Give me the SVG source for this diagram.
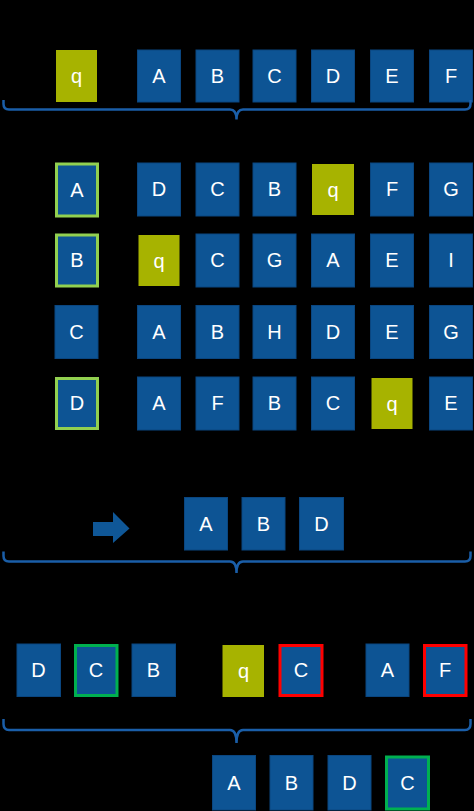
<svg xmlns="http://www.w3.org/2000/svg" width="474" height="811" viewBox="0 0 474 811">
<style>
.b{fill:#0d5494;stroke:#0a4680;stroke-width:1}
.q{fill:#a7b300}
.lg{fill:#0d5494;stroke:#92d050;stroke-width:3}
.g{fill:#0d5494;stroke:#00b050;stroke-width:3}
.r{fill:#0d5494;stroke:#ff0000;stroke-width:3}
.br{fill:none;stroke:#1a5ea8;stroke-width:2.5}
text{font-family:"Liberation Sans",Arial,sans-serif;font-size:20px;fill:#ffffff;text-anchor:middle}
</style>
<rect width="474" height="811" fill="#000000"/>
<g id="row0">
<g id="n0q"><rect class="q" x="56" y="50" width="41" height="52"/><text x="76.5" y="83">q</text></g>
<g id="n0A"><rect class="b" x="137.5" y="50" width="43" height="52"/><text x="159" y="83">A</text></g>
<g id="n0B"><rect class="b" x="196" y="50" width="43" height="52"/><text x="217.5" y="83">B</text></g>
<g id="n0C"><rect class="b" x="253" y="50" width="43" height="52"/><text x="274.5" y="83">C</text></g>
<g id="n0D"><rect class="b" x="311.5" y="50" width="43" height="52"/><text x="333" y="83">D</text></g>
<g id="n0E"><rect class="b" x="370.5" y="50" width="43" height="52"/><text x="392" y="83">E</text></g>
<g id="n0F"><rect class="b" x="429.5" y="50" width="43" height="52"/><text x="451" y="83">F</text></g>
</g>
<g id="grid">
<g id="r1A"><rect class="lg" x="56.5" y="164" width="41" height="52"/><text x="77" y="197">A</text></g>
<g id="r1c1"><rect class="b" x="137.5" y="163" width="43" height="53"/><text x="159" y="196">D</text></g>
<g id="r1c2"><rect class="b" x="196" y="163" width="43" height="53"/><text x="217.5" y="196">C</text></g>
<g id="r1c3"><rect class="b" x="253" y="163" width="43" height="53"/><text x="274.5" y="196">B</text></g>
<g id="r1c4"><rect class="q" x="312" y="164" width="42" height="51"/><text x="333" y="197">q</text></g>
<g id="r1c5"><rect class="b" x="370.5" y="163" width="43" height="53"/><text x="392" y="196">F</text></g>
<g id="r1c6"><rect class="b" x="429.5" y="163" width="43" height="53"/><text x="451" y="196">G</text></g>

<g id="r2B"><rect class="lg" x="56.5" y="235" width="41" height="51"/><text x="77" y="267">B</text></g>
<g id="r2c1"><rect class="q" x="138.5" y="235" width="41" height="51"/><text x="159" y="268">q</text></g>
<g id="r2c2"><rect class="b" x="196" y="234" width="43" height="53"/><text x="217.5" y="267">C</text></g>
<g id="r2c3"><rect class="b" x="253" y="234" width="43" height="53"/><text x="274.5" y="267">G</text></g>
<g id="r2c4"><rect class="b" x="311.5" y="234" width="43" height="53"/><text x="333" y="267">A</text></g>
<g id="r2c5"><rect class="b" x="370.5" y="234" width="43" height="53"/><text x="392" y="267">E</text></g>
<g id="r2c6"><rect class="b" x="429.5" y="234" width="43" height="53"/><text x="451" y="267">I</text></g>

<g id="r3C"><rect class="b" x="55" y="305.5" width="43" height="53"/><text x="76.5" y="338.5">C</text></g>
<g id="r3c1"><rect class="b" x="137.5" y="305.5" width="43" height="53"/><text x="159" y="338.5">A</text></g>
<g id="r3c2"><rect class="b" x="196" y="305.5" width="43" height="53"/><text x="217.5" y="338.5">B</text></g>
<g id="r3c3"><rect class="b" x="253" y="305.5" width="43" height="53"/><text x="274.5" y="338.5">H</text></g>
<g id="r3c4"><rect class="b" x="311.5" y="305.5" width="43" height="53"/><text x="333" y="338.5">D</text></g>
<g id="r3c5"><rect class="b" x="370.5" y="305.5" width="43" height="53"/><text x="392" y="338.5">E</text></g>
<g id="r3c6"><rect class="b" x="429.5" y="305.5" width="43" height="53"/><text x="451" y="338.5">G</text></g>

<g id="r4D"><rect class="lg" x="56.5" y="378.5" width="41" height="50"/><text x="77" y="410">D</text></g>
<g id="r4c1"><rect class="b" x="137.5" y="377" width="43" height="53"/><text x="159" y="410">A</text></g>
<g id="r4c2"><rect class="b" x="196" y="377" width="43" height="53"/><text x="217.5" y="410">F</text></g>
<g id="r4c3"><rect class="b" x="253" y="377" width="43" height="53"/><text x="274.5" y="410">B</text></g>
<g id="r4c4"><rect class="b" x="311.5" y="377" width="43" height="53"/><text x="333" y="410">C</text></g>
<g id="r4c5"><rect class="q" x="371.5" y="378" width="41" height="51"/><text x="392" y="411">q</text></g>
<g id="r4c6"><rect class="b" x="429.5" y="377" width="43" height="53"/><text x="451" y="410">E</text></g>
</g>
<g id="result1">
<g id="s1A"><rect class="b" x="184.5" y="497.5" width="43" height="52.5"/><text x="206" y="530.5">A</text></g>
<g id="s1B"><rect class="b" x="242" y="497.5" width="43" height="52.5"/><text x="263.5" y="530.5">B</text></g>
<g id="s1D"><rect class="b" x="299.5" y="497.5" width="44" height="52.5"/><text x="321.5" y="530.5">D</text></g>
</g>
<g id="section3">
<g id="t1"><rect class="b" x="17" y="644" width="43.5" height="52.5"/><text x="38.5" y="677">D</text></g>
<g id="t2"><rect class="g" x="75.5" y="645.5" width="41.5" height="50"/><text x="96" y="677">C</text></g>
<g id="t3"><rect class="b" x="132" y="644" width="43.5" height="52.5"/><text x="153.5" y="677">B</text></g>
<g id="t4"><rect class="q" x="222.5" y="645" width="41.5" height="52"/><text x="243.5" y="678">q</text></g>
<g id="t5"><rect class="r" x="280" y="645.5" width="42" height="50"/><text x="301" y="677">C</text></g>
<g id="t6"><rect class="b" x="366" y="644" width="43" height="52.5"/><text x="387.5" y="677">A</text></g>
<g id="t7"><rect class="r" x="424.5" y="645.5" width="41.5" height="50"/><text x="445" y="677">F</text></g>
</g>
<g id="result2">
<g id="u1"><rect class="b" x="212.5" y="755.5" width="43" height="54.5"/><text x="234" y="790">A</text></g>
<g id="u2"><rect class="b" x="270" y="755.5" width="43" height="54.5"/><text x="291.5" y="790">B</text></g>
<g id="u3"><rect class="b" x="328" y="755.5" width="43" height="54.5"/><text x="349.5" y="790">D</text></g>
<g id="u4"><rect class="g" x="386.5" y="757" width="42" height="52"/><text x="407.5" y="790">C</text></g>
</g>
<g id="connectors">
<path class="br" d="M3.5,100 V104 Q3.5,109.5 9,109.5 H230 Q236.5,109.5 236.5,119.5 Q236.5,109.5 243,109.5 H465 Q470.5,109.5 470.5,104 V100"/>
<path class="br" d="M3.5,551.5 V556 Q3.5,561.5 9,561.5 H230 Q236.5,561.5 236.5,573 Q236.5,561.5 243,561.5 H465 Q470.5,561.5 470.5,556 V551.5"/>
<path class="br" d="M3.5,719 V724 Q3.5,730 9,730 H230 Q236.5,730 236.5,743 Q236.5,730 243,730 H465 Q470.5,730 470.5,724 V719"/>
<polygon points="93,522 113,522 113,512 129.5,528.5 113,543 113,536 93,536" fill="#0f5797"/>
</g>
</svg>
